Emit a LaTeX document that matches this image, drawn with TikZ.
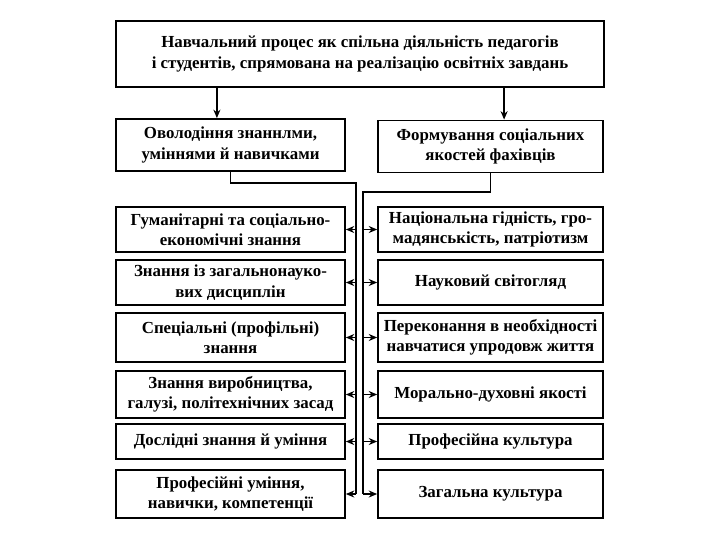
\documentclass[tikz,border=0pt]{standalone}
\usepackage{fontspec}
\setmainfont{Liberation Serif}
\usepackage{tikz}
\usetikzlibrary{arrows.meta, positioning, calc}

\begin{document}
\begin{tikzpicture}[x=0.025cm, y=-0.025cm,
    caixaT/.style={draw=black, line width=1.3pt, fill=white, minimum width=12.2cm, minimum height=1.65cm, align=center, font=\fontsize{12}{15}\selectfont\bfseries},
    caixaL/.style={draw=black, line width=1.3pt, fill=white, minimum width=5.72cm, align=center, inner sep=2pt, font=\fontsize{12}{14.5}\selectfont\bfseries},
    caixaR/.style={draw=black, line width=1.3pt, fill=white, minimum width=5.62cm, align=center, inner sep=2pt, font=\fontsize{12}{14.5}\selectfont\bfseries},
    linha/.style={line width=1pt, black},
    seta/.style={-{Stealth[length=6pt, width=5pt]}, line width=1pt, black}
  ]
    \useasboundingbox (0,0) rectangle (720,540);

    \node[caixaT] (top) at (360,54) {Навчальний процес як спільна діяльність педагогів\\і студентів, спрямована на реалізацію освітніх завдань};

    \node[caixaL, minimum height=1.3cm] (l0) at (230.5,145) {Оволодіння знаннлми,\\уміннями й навичками};
    \node[caixaR, minimum height=1.3cm] (r0) at (490.5,146.5) {Формування соціальних\\якостей фахівців};
    \draw[seta] ([xshift=-3.4mm]l0.north |- top.south) -- ([xshift=-3.4mm]l0.north);
    \draw[seta] ([xshift=3.4mm]r0.north |- top.south) -- ([xshift=3.4mm]r0.north);

    % left column
    \node[caixaL, minimum height=1.125cm] (l1) at (230.5,229.5) {Гуманітарні та соціально-\\економічні знання};
    \node[caixaL, minimum height=1.125cm] (l2) at (230.5,282.5) {Знання із загальнонауко-\\вих дисциплін};
    \node[caixaL, minimum height=1.225cm] (l3) at (230.5,337.5) {Спеціальні (профільні)\\знання};
    \node[caixaL, minimum height=1.175cm] (l4) at (230.5,394.5) {Знання виробництва,\\галузі, політехнічних засад};
    \node[caixaL, minimum height=0.875cm] (l5) at (230.5,441.5) {Дослідні знання й уміння};
    \node[caixaL, minimum height=1.2cm] (l6) at (230.5,494) {Професійні уміння,\\навички, компетенції};

    % right column
    \node[caixaR, minimum height=1.125cm] (r1) at (490.5,229.5) {Національна гідність, гро-\\мадянськість, патріотизм};
    \node[caixaR, minimum height=1.125cm] (r2) at (490.5,282.5) {Науковий світогляд};
    \node[caixaR, minimum height=1.225cm] (r3) at (490.5,337.5) {Переконання в необхідності\\навчатися упродовж життя};
    \node[caixaR, minimum height=1.175cm] (r4) at (490.5,394.5) {Морально-духовні якості};
    \node[caixaR, minimum height=0.875cm] (r5) at (490.5,441.5) {Професійна культура};
    \node[caixaR, minimum height=1.2cm] (r6) at (490.5,494) {Загальна культура};

    % buses
    \coordinate (busL) at (356,183);
    \coordinate (busR) at (363,192);
    \draw[linha] (l0.south) |- (busL) -- (busL |- l6.east);
    \draw[linha] (r0.south) |- (busR) -- (busR |- r6.west);

    \draw[seta] (busL |- l1.east) -- (l1.east);
    \draw[seta] (busL |- l2.east) -- (l2.east);
    \draw[seta] (busL |- l3.east) -- (l3.east);
    \draw[seta] (busL |- l4.east) -- (l4.east);
    \draw[seta] (busL |- l5.east) -- (l5.east);
    \draw[seta] (busL |- l6.east) -- (l6.east);

    \draw[seta] (busR |- r1.west) -- (r1.west);
    \draw[seta] (busR |- r2.west) -- (r2.west);
    \draw[seta] (busR |- r3.west) -- (r3.west);
    \draw[seta] (busR |- r4.west) -- (r4.west);
    \draw[seta] (busR |- r5.west) -- (r5.west);
    \draw[seta] (busR |- r6.west) -- (r6.west);
  \end{tikzpicture}
\end{document}
